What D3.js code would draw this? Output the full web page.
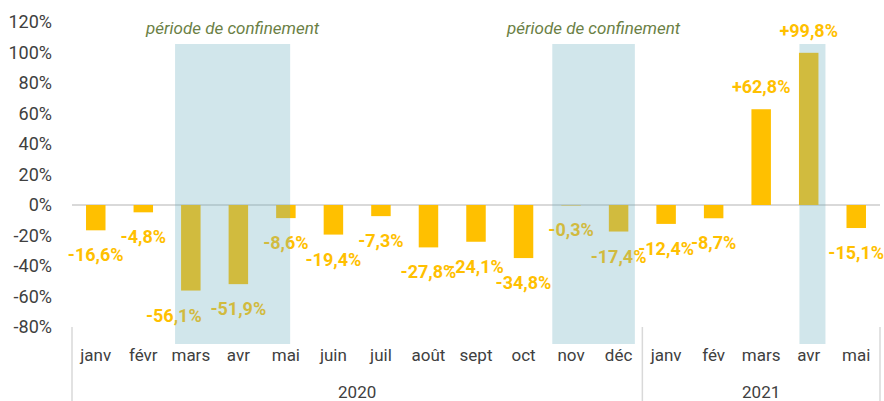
<!DOCTYPE html>
<html>
<head>
<meta charset="utf-8">
<script src="https://cdn.jsdelivr.net/npm/d3@7"></script>
<style>
  body { margin: 0; background: #fff; }
  svg { display: block; font-family: Roboto, "Noto Sans", sans-serif; }
</style>
</head>
<body>
<svg id="chart" width="884" height="401"></svg>
<script>
// ---- data ----
const months = ["janv", "févr", "mars", "avr", "mai", "juin", "juil", "août", "sept", "oct", "nov", "déc",
                "janv", "fév", "mars", "avr", "mai"];
const years = ["2020", "2020", "2020", "2020", "2020", "2020", "2020", "2020", "2020", "2020", "2020", "2020",
               "2021", "2021", "2021", "2021", "2021"];
const values = [-16.6, -4.8, -56.1, -51.9, -8.6, -19.4, -7.3, -27.8, -24.1, -34.8, -0.3, -17.4,
                -12.4, -8.7, 62.8, 99.8, -15.1];
const yTicks = [-80, -60, -40, -20, 0, 20, 40, 60, 80, 100, 120];
// lockdown periods as [first index, last index, caption]
const lockdowns = [[2, 4, "période de confinement"], [10, 11, "période de confinement"], [15, 15, ""]];

// ---- style ----
const W = 884, H = 401;
const plotL = 72, plotR = 880, plotT = 22, plotB = 327;
const barColor = "#FFC000";
const boxColor = "#6fb0c0";
const boxOpacity = 0.32;
const textColor = "#404040";
const gridColor = "#d9d9d9";
// hand-placed edges of the shaded boxes (px from band edges) and label nudges
const boxNudge = [[8, -19.5], [5, -7.5], [14.5, -7]];
const labelNudge = { 2: -17 };

const svg = d3.select("#chart");

const x = d3.scaleBand()
  .domain(d3.range(months.length))
  .range([plotL, plotR])
  .padding(0);

const y = d3.scaleLinear()
  .domain([-80, 120])
  .range([plotB, plotT]);

const bw = x.bandwidth() * 0.41;

const fr = d3.formatLocale({ decimal: ",", thousands: " ", grouping: [3], currency: ["", "€"], minus: "-" });
const fmt = v => fr.format("+.1f")(v) + "%";

// y axis labels
svg.append("g")
  .attr("transform", `translate(${plotL - 20},0)`)
  .call(d3.axisLeft(y).tickValues(yTicks).tickSize(0).tickPadding(0).tickFormat(d => d + "%"))
  .call(g => g.select(".domain").remove())
  .selectAll("text")
  .attr("fill", textColor)
  .style("font-size", "18px")
  .style("font-family", "Roboto, sans-serif");

// zero line
svg.append("line")
  .attr("x1", plotL).attr("x2", plotR)
  .attr("y1", y(0)).attr("y2", y(0))
  .attr("stroke", gridColor).attr("stroke-width", 2);

// bars
svg.selectAll(".bar")
  .data(values)
  .enter()
  .append("rect")
  .attr("class", "bar")
  .attr("x", (d, i) => x(i) + x.bandwidth() / 2 - bw / 2)
  .attr("y", d => y(Math.max(0, d)))
  .attr("width", bw)
  .attr("height", d => Math.abs(y(d) - y(0)))
  .attr("fill", barColor);

// value labels
svg.selectAll(".label")
  .data(values)
  .enter()
  .append("text")
  .attr("class", "label")
  .attr("x", (d, i) => x(i) + x.bandwidth() / 2 + (labelNudge[i] || 0))
  .attr("y", d => d < 0 ? y(d) + 31 : y(d) - 16)
  .attr("text-anchor", "middle")
  .attr("fill", barColor)
  .style("font-size", "18px")
  .style("font-weight", "bold")
  .text(d => fmt(d));

// shaded lockdown boxes, drawn over the bars
lockdowns.forEach((p, k) => {
  const x0 = x(p[0]) + boxNudge[k][0];
  const x1 = x(p[1]) + x.bandwidth() + boxNudge[k][1];
  svg.append("rect")
    .attr("x", x0).attr("y", 44)
    .attr("width", x1 - x0).attr("height", 300)
    .attr("fill", boxColor).attr("fill-opacity", boxOpacity);
  if (p[2]) {
    svg.append("text")
      .attr("x", (x0 + x1) / 2)
      .attr("y", 34)
      .attr("text-anchor", "middle")
      .attr("fill", "#6b7f45")
      .style("font-size", "17px")
      .style("font-style", "italic")
      .text(p[2]);
  }
});

// month labels
svg.selectAll(".month")
  .data(months)
  .enter()
  .append("text")
  .attr("class", "month")
  .attr("x", (d, i) => x(i) + x.bandwidth() / 2)
  .attr("y", 361)
  .attr("text-anchor", "middle")
  .attr("fill", textColor)
  .style("font-size", "17px")
  .text(d => d);

// year groups and separators
const groups = d3.groups(d3.range(months.length), i => years[i]);
groups.forEach(([yr, idx]) => {
  const x0 = x(idx[0]);
  const x1 = x(idx[idx.length - 1]) + x.bandwidth();
  svg.append("text")
    .attr("x", (x0 + x1) / 2)
    .attr("y", 398)
    .attr("text-anchor", "middle")
    .attr("fill", textColor)
    .style("font-size", "17px")
    .text(yr);
});
const seps = [plotL].concat(groups.map(([yr, idx]) => x(idx[idx.length - 1]) + x.bandwidth()));
svg.selectAll(".sep")
  .data(seps)
  .enter()
  .append("line")
  .attr("x1", d => d).attr("x2", d => d)
  .attr("y1", plotB).attr("y2", H)
  .attr("stroke", gridColor).attr("stroke-width", 1.5);
</script>
</body>
</html>
